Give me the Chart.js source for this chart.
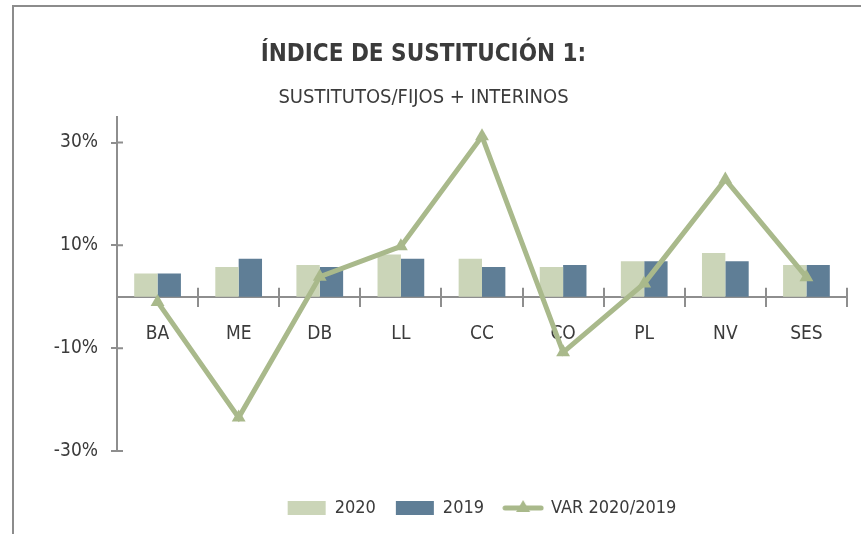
<!DOCTYPE html>
<html>
<head>
<meta charset="utf-8">
<script src="https://cdn.jsdelivr.net/npm/chart.js@4"></script>
<style>
  html, body { margin: 0; padding: 0; background: #fff; }
  #wrap { position: relative; width: 861px; height: 534px; }
</style>
</head>
<body>
<div id="wrap"><canvas id="myChart" width="861" height="534"></canvas></div>
<script>
// data
const categories = ['BA', 'ME', 'DB', 'LL', 'CC', 'CO', 'PL', 'NV', 'SES'];
const v2020 = [4.5, 5.8, 6.2, 8.2, 7.4, 5.8, 6.9, 8.5, 6.2];
const v2019 = [4.5, 7.4, 5.8, 7.4, 5.8, 6.2, 6.9, 6.9, 6.2];
const varPct = [-1.0, -23.5, 3.9, 9.8, 31.2, -10.8, 2.6, 22.8, 3.8];
const yTicks = [-30, -10, 10, 30];

const FONT = "'Liberation Sans Narrow', 'DejaVu Sans Condensed', sans-serif";
const TXT = '#3b3b3b';
const AXIS = '#8e8e8e';
const C2020 = '#cbd5b8';
const C2019 = '#5f7e96';
const CVAR = '#a9b98b';

// legend symbol for the line series: thick line with a triangle in the middle
function lineSymbol() {
  const c = document.createElement('canvas');
  c.width = 42; c.height = 16;
  const g = c.getContext('2d');
  g.strokeStyle = CVAR; g.lineWidth = 5; g.lineCap = 'round';
  g.beginPath(); g.moveTo(3, 8); g.lineTo(39, 8); g.stroke();
  g.fillStyle = CVAR;
  g.beginPath(); g.moveTo(21, 0); g.lineTo(28, 12); g.lineTo(14, 12); g.closePath(); g.fill();
  return c;
}

// frame + inner half of the tick marks
const extras = {
  id: 'extras',
  beforeLayout(chart) {
    const lg = chart.legend;
    if (lg && !lg._patched) {
      const fit = lg.fit;
      lg.fit = function () { fit.call(this); this.height = 83; };
      lg._patched = true;
    }
  },
  beforeDraw(chart) {
    const ctx = chart.ctx;
    ctx.save();
    ctx.strokeStyle = '#8c8c8c';
    ctx.lineWidth = 2;
    ctx.beginPath();
    ctx.moveTo(13, 534); ctx.lineTo(13, 6); ctx.lineTo(861, 6);
    ctx.stroke();
    ctx.restore();
  },
  afterDraw(chart) {
    const ctx = chart.ctx;
    const x = chart.scales.x, y = chart.scales.y;
    const y0 = y.getPixelForValue(0);
    ctx.save();
    ctx.strokeStyle = AXIS;
    ctx.lineWidth = 2;
    ctx.beginPath();
    const n = categories.length;
    for (let i = 0; i <= n; i++) {
      const px = Math.round(x.left + i * (x.right - x.left) / n);
      ctx.moveTo(px, y0); ctx.lineTo(px, y0 - 9);
    }
    yTicks.forEach(v => {
      const py = y.getPixelForValue(v);
      ctx.moveTo(y.right, py); ctx.lineTo(y.right + 6, py);
    });
    ctx.stroke();
    ctx.restore();
  }
};

const ctx = document.getElementById('myChart').getContext('2d');
const myChart = new Chart(ctx, {
  type: 'bar',
  data: {
    labels: categories,
    datasets: [{
      label: '2020',
      data: v2020,
      backgroundColor: C2020,
      order: 2
    }, {
      label: '2019',
      data: v2019,
      backgroundColor: C2019,
      order: 2
    }, {
      type: 'line',
      label: 'VAR 2020/2019',
      data: varPct,
      borderColor: CVAR,
      backgroundColor: CVAR,
      borderWidth: 5,
      pointStyle: 'triangle',
      pointRadius: 8,
      pointBorderWidth: 0,
      tension: 0,
      order: 0
    }]
  },
  options: {
    responsive: false,
    animation: false,
    layout: { padding: { left: 0, right: 14, top: 40, bottom: 0 } },
    datasets: { bar: { categoryPercentage: 0.576, barPercentage: 1.0 } },
    scales: {
      x: {
        position: { y: 0 },
        grid: { drawOnChartArea: false, color: AXIS, lineWidth: 2, tickLength: 9 },
        border: { color: AXIS, width: 2 },
        ticks: { color: TXT, font: { family: FONT, size: 19 }, padding: 17 }
      },
      y: {
        min: -30,
        max: 35,
        afterFit(scale) { scale.width = 117; },
        afterBuildTicks(scale) { scale.ticks = yTicks.map(v => ({ value: v })); },
        grid: { drawOnChartArea: false, color: AXIS, lineWidth: 2, tickLength: 6 },
        border: { color: AXIS, width: 2 },
        ticks: {
          color: TXT,
          font: { family: FONT, size: 19 },
          padding: 13,
          callback: v => v + '%'
        }
      }
    },
    plugins: {
      title: {
        display: true,
        text: 'ÍNDICE DE SUSTITUCIÓN 1:',
        color: TXT,
        font: { family: FONT, size: 24, weight: 'bold' },
        padding: { top: 0, bottom: 17 }
      },
      subtitle: {
        display: true,
        text: 'SUSTITUTOS/FIJOS + INTERINOS',
        color: TXT,
        font: { family: FONT, size: 20 },
        padding: { top: 0, bottom: 7 }
      },
      legend: {
        position: 'bottom',
        fullSize: false,
        title: { display: true, text: ' ', font: { size: 10 }, padding: { top: 0, bottom: 16 } },
        labels: {
          color: TXT,
          font: { family: FONT, size: 18 },
          usePointStyle: true,
          pointStyleWidth: 38,
          boxHeight: 14,
          padding: 20,
          generateLabels(chart) {
            return chart.data.datasets.map((ds, i) => ({
              text: ds.label,
              fillStyle: ds.backgroundColor,
              strokeStyle: ds.backgroundColor,
              lineWidth: 0,
              pointStyle: ds.type === 'line' ? lineSymbol() : 'rect',
              fontColor: TXT,
              datasetIndex: i,
              hidden: false
            }));
          }
        }
      },
      tooltip: { enabled: false }
    }
  },
  plugins: [extras]
});
</script>
</body>
</html>
